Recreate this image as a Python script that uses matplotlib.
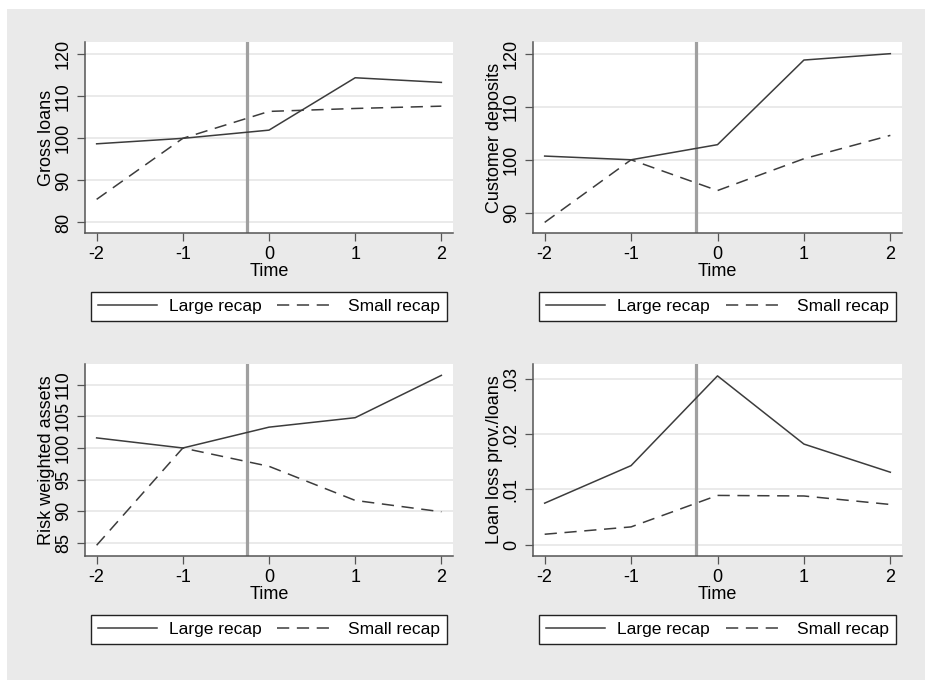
import matplotlib.pyplot as plt
from matplotlib.patches import Rectangle

plt.rcParams['font.family'] = ['Liberation Sans', 'DejaVu Sans']

# event time around the recapitalisation
time = [-2, -1, 0, 1, 2]
event_line = -0.25

# values, one pair per panel
loans_large = [98.7, 100.0, 101.95, 114.4, 113.3]
loans_small = [85.5, 100.0, 106.4, 107.1, 107.65]
deposits_large = [100.7, 100.0, 102.85, 118.8, 120.0]
deposits_small = [88.2, 100.0, 94.2, 100.2, 104.6]
rwa_large = [101.6, 100.0, 103.3, 104.8, 111.5]
rwa_small = [84.6, 100.0, 97.1, 91.7, 89.9]
llp_large = [0.0075, 0.0143, 0.03055, 0.0182, 0.0131]
llp_small = [0.00187, 0.0032, 0.0089, 0.0088, 0.00726]

ylabels = ['Gross loans', 'Customer deposits', 'Risk weighted assets', 'Loan loss prov./loans']
yticks = [[80, 90, 100, 110, 120], [90, 100, 110, 120],
          [85, 90, 95, 100, 105, 110], [0, 0.01, 0.02, 0.03]]
yticklabels = [None, None, None, ['0', '.01', '.02', '.03']]
ylims = [(77.5, 122.9), (86.2, 122.2), (82.9, 113.3), (-0.00207, 0.0327)]
series = [(loans_large, loans_small), (deposits_large, deposits_small),
          (rwa_large, rwa_small), (llp_large, llp_small)]

W, H = 925, 680
fig = plt.figure(figsize=(W / 100, H / 100), dpi=100, facecolor='white')
fig.patches.append(Rectangle((7 / W, 0), 1 - 7 / W, 1 - 9 / H, transform=fig.transFigure,
                             facecolor='#eaeaea', edgecolor='none', zorder=-10))

# axes boxes in pixels: left, top, right, bottom
boxes = [(85, 42, 453, 233), (533, 42, 902, 233), (85, 364, 453, 556), (533, 364, 902, 556)]
line_col = '#3c3c3c'

for i, (l, t, r, b) in enumerate(boxes):
    ax = fig.add_axes([l / W, 1 - b / H, (r - l) / W, (b - t) / H])
    ax.set_facecolor('white')
    large, small = series[i]
    ax.axvline(event_line, color='#a0a0a0', lw=2.3, zorder=2)
    h1, = ax.plot(time, large, color=line_col, lw=1.1, label='Large recap', zorder=3)
    h2, = ax.plot(time, small, color=line_col, lw=1.1, dashes=(8, 5),
                  label='Small recap', zorder=3)
    ax.set_xlim(-2.135, 2.135)
    ax.set_ylim(*ylims[i])
    ax.set_xticks(time)
    ax.set_xticklabels([str(v) for v in time])
    ax.set_yticks(yticks[i])
    if yticklabels[i] is not None:
        ax.set_yticklabels(yticklabels[i])
    ax.grid(axis='y', color='#e6e6e6', lw=1.2, zorder=0)
    for s in ['top', 'right']:
        ax.spines[s].set_visible(False)
    for s in ['left', 'bottom']:
        ax.spines[s].set_color('#555555')
        ax.spines[s].set_linewidth(1.1)
    ax.tick_params(length=6, width=0.9, color='#555555', labelsize=13, pad=3.5)
    ax.tick_params(axis='y', labelrotation=90)
    for lab in ax.get_yticklabels():
        lab.set_va('center')
    ax.set_ylabel(ylabels[i], fontsize=13)
    ax.yaxis.set_label_coords(-0.082, 0.5)
    ax.set_xlabel('Time', fontsize=13)
    ax.xaxis.set_label_coords(0.5, -0.155)

    # legend box under each panel
    lx0, lx1 = l + 5.7, r - 6.3
    ly0, ly1 = b + 57, b + 90
    leg = ax.legend(handles=[h1, h2], loc='center', ncol=2, mode='expand',
                    bbox_to_anchor=(lx0 / W, 1 - ly1 / H, (lx1 - lx0) / W, (ly1 - ly0) / H),
                    bbox_transform=fig.transFigure, fontsize=12.5, frameon=True,
                    fancybox=False, framealpha=1, edgecolor='#222222',
                    borderaxespad=0, borderpad=0.4, handlelength=3.4,
                    handletextpad=0.7, columnspacing=1.2)
    leg.get_frame().set_linewidth(1.0)

fig.savefig('out.png', dpi=100, facecolor=fig.get_facecolor())
